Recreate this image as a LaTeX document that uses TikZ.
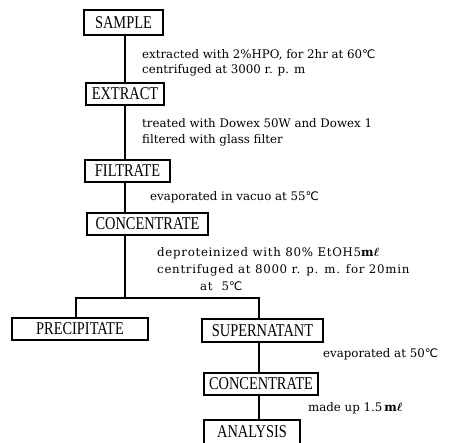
\documentclass[tikz,border=0pt]{standalone}
\usepackage{fontspec}
\setmainfont{DejaVu Serif}
\newfontfamily\boxfont{Liberation Serif}[FakeStretch=0.8]
\newfontfamily\symfont{DejaVu Sans}
\newcommand\degc{{\symfont ℃}}
\newcommand\mlunit{{\bfseries m}{\boldmath$\ell$}}
\usetikzlibrary{positioning, calc}

\begin{document}
\begin{tikzpicture}[x=1pt, y=-1pt, stage/.style={rectangle,draw,line width=1.8pt,minimum height=22pt,inner sep=0pt,font=\boxfont\fontsize{18}{20}\selectfont}, note/.style={anchor=north west,inner sep=0pt,align=left,font=\fontsize{11.8}{15}\selectfont}, flow/.style={-, black, line width=1.8pt}]
\useasboundingbox (0,0) rectangle (469,443);
\node (sample) [stage, minimum width=79pt, minimum height=25pt] at (123.5,22.5) {SAMPLE};
\node (extract) [stage, minimum width=78pt] at (125,94) {EXTRACT};
\node (filtrate) [stage, minimum width=85pt] at (127.5,171) {FILTRATE};
\node (conc) [stage, minimum width=121pt] at (147.5,224) {CONCENTRATE};
\node (precip) [stage, minimum width=136pt] at (80,329) {PRECIPITATE};
\node (super) [stage, minimum width=121pt, minimum height=23pt] at (262.5,330.5) {SUPERNATANT};
\node (conc2) [stage, minimum width=114pt] at (261,384) {CONCENTRATE};
\node (analysis) [stage, minimum width=96pt, minimum height=24pt] at (252,432) {ANALYSIS};
\coordinate (trunk) at (125,0);
\coordinate (branch) at (125,298);
\coordinate (pleft) at (76,0);
\coordinate (side) at (259,0);
  \begin{scope}
    \draw [flow] (sample.south -| trunk) -- (extract.north -| trunk);
    \draw [flow] (extract.south -| trunk) -- (filtrate.north -| trunk);
    \draw [flow] (filtrate.south -| trunk) -- (conc.north -| trunk);
    \draw [flow] (conc.south -| trunk) -- (branch);
    \draw [flow] (precip.north -| pleft) |- (branch) -| (super.north -| side);
    \draw [flow] (super.south -| side) -- (conc2.north -| side);
    \draw [flow] (conc2.south -| side) -- (analysis.north -| side);
    \node (n1) [note] at (142,49) {extracted with 2\%HPO, for 2hr at 60\degc\\centrifuged at 3000 r. p. m};
    \node (n2) [note, font=\fontsize{11.8}{16}\selectfont] at (142,118) {treated with Dowex 50W and Dowex 1\\filtered with glass filter};
    \node (n3) [note] at (150,191) {evaporated in vacuo at 55\degc};
    \node (n4) [note, font=\fontsize{11.8}{17}\selectfont\addfontfeature{LetterSpace=6}] at (157,247) {deproteinized with 80\% EtOH5\mlunit\\centrifuged at 8000 r. p. m. for 20min\\\hspace*{43pt}at\ \ 5\degc};
    \node (n5) [note] at (323,348) {evaporated at 50\degc};
    \node (n6) [note] at (308,402) {made up 1.5\,\mlunit};
  \end{scope}
\end{tikzpicture}
\end{document}
